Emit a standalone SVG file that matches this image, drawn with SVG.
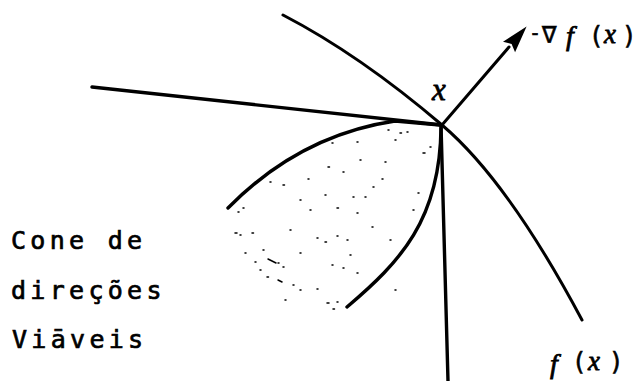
<svg xmlns="http://www.w3.org/2000/svg" width="639" height="381" viewBox="0 0 639 381">
  <style>
    .ln { fill: none; stroke: #000; stroke-width: 3.4; stroke-linecap: round; stroke-linejoin: round; }
    .thin { stroke-width: 3; }
    .lbl { font-family: "DejaVu Sans Mono", "Liberation Mono", monospace; font-size: 25px; letter-spacing: 4.3px; fill: #000; stroke: #000; stroke-width: 0.7px; }
    .sym { font-family: "DejaVu Sans Mono", "Liberation Mono", monospace; font-size: 24px; fill: #000; stroke: #000; stroke-width: 0.6px; }
    .var { font-family: "Liberation Serif", "DejaVu Serif", serif; font-style: italic; font-size: 31px; fill: #000; stroke: #000; stroke-width: 0.8px; }
    .dots { fill: none; stroke: #000; stroke-width: 1.5; stroke-linecap: round; }
  </style>
  <defs>
    <marker id="arrowhead" markerUnits="userSpaceOnUse" markerWidth="30" markerHeight="18" refX="0" refY="8" orient="auto">
      <path d="M0,0 L27,8 L0,16 L4,8 Z" fill="#000"/>
    </marker>
  </defs>
  <rect width="639" height="381" fill="#fff"/>

  <g id="connectors">
    <!-- level curve f(x) -->
    <path id="curve-f" class="ln thin" d="M283,15 Q360,55 442,125 Q508,181 582,320"/>
    <!-- tangent line to the left -->
    <path id="tangent-line" class="ln" d="M92,87 L442,125"/>
    <!-- vertical line -->
    <path id="vertical-line" class="ln" d="M441,125 L448,381"/>
    <!-- gradient arrow -->
    <path id="gradient-arrow" class="ln thin" d="M442,125 L509,47" marker-end="url(#arrowhead)"/>
  </g>

  <g id="cone">
    <path class="ln" d="M228,208 Q300,135 395,121 L440,125"/>
    <path class="ln" d="M347,307 C400,262 440,220 441,128"/>
    <path class="dots" d="M388,130h1 M400,133h1.5 M407,132h1 M423,153h2 M430,147h1 M385,162h1 M357,142h1 M332,143h1 M328,167h1.5 M343,172h1 M270,182h1 M283,185h1.5 M308,179h1 M373,187h1 M382,179h1 M325,195h1 M337,208h1.5 M353,197h1 M365,197h1 M418,193h1 M413,210h1 M357,213h1 M372,227h1 M235,233h2 M240,235h1 M252,233h1.5 M245,253h1 M263,250h1 M268,259l8,4 M278,263h1 M283,267h1 M300,253h1 M317,238h1 M325,242h1.5 M337,236h1 M347,240h1 M332,265h1 M343,268h1 M357,273h1 M267,277h1.5 M278,280l4,2 M293,285h1 M300,290h1 M317,289h1 M327,303h2 M333,309h1.5 M337,302h1 M255,262h1 M243,208h1 M238,212h1 M395,140h1 M360,160h1 M310,210h1 M290,230h1 M300,200h1 M390,240h1 M350,255h1 M260,270h1 M285,300h1 M395,290h1"/>
  </g>

  <g id="label-x">
    <text class="var" x="432" y="100">x</text>
  </g>
  <g id="label-gradient">
    <text class="sym"><tspan x="529" y="40" style="font-size:20px">-</tspan><tspan x="542" y="43">∇</tspan><tspan class="var" x="566" y="45" style="font-size:28px">f</tspan><tspan x="589" y="44">(</tspan><tspan class="var" x="604" y="43" style="font-size:27px">x</tspan><tspan x="622" y="44">)</tspan></text>
  </g>
  <g id="label-fx">
    <text class="sym"><tspan class="var" x="550" y="373" style="font-size:28px">f</tspan><tspan x="572" y="370">(</tspan><tspan class="var" x="588" y="370" style="font-size:27px">x</tspan><tspan x="609" y="370">)</tspan></text>
  </g>
  <g id="label-cone">
    <text class="lbl" x="11" y="249">Cone de</text>
    <text class="lbl" x="11" y="299">direções</text>
    <text class="lbl" x="12" y="348">Viāveis</text>
  </g>
</svg>
